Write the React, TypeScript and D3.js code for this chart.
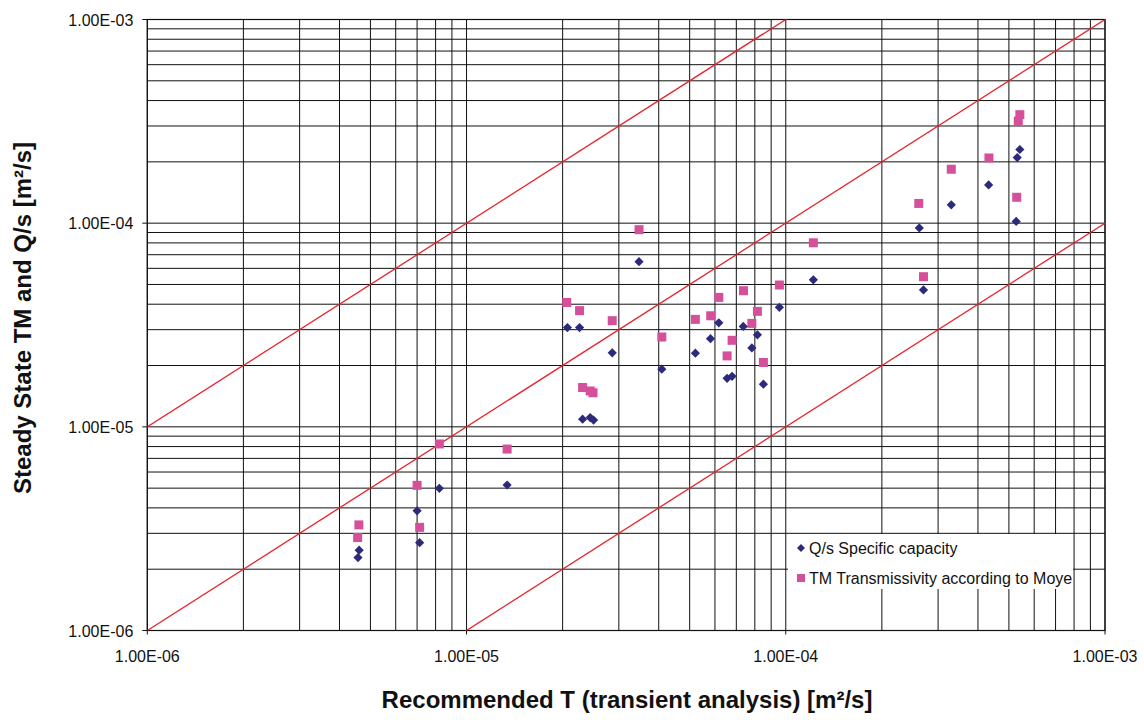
import React from "react";
import * as d3 from "d3";

const majorTicks = [1e-6, 1e-5, 1e-4, 1e-3];
const tickLabels = ["1.00E-06", "1.00E-05", "1.00E-04", "1.00E-03"];

// Q/s Specific capacity: x = recommended T, y = Q/s
const qsX = [4.57e-6, 4.61e-6, 7.0e-6, 7.13e-6, 8.22e-6, 1.34e-5, 2.07e-5, 2.26e-5, 2.86e-5, 2.31e-5, 2.44e-5, 2.5e-5, 3.47e-5, 4.09e-5, 5.21e-5, 5.81e-5, 6.17e-5, 7.36e-5, 8.15e-5, 7.83e-5, 6.55e-5, 6.79e-5, 8.51e-5, 9.55e-5, 1.22e-4, 2.62e-4, 2.7e-4, 3.3e-4, 4.32e-4, 5.27e-4, 5.31e-4, 5.41e-4];
const qsY = [2.28e-6, 2.48e-6, 3.87e-6, 2.7e-6, 4.99e-6, 5.18e-6, 3.07e-5, 3.07e-5, 2.31e-5, 1.09e-5, 1.11e-5, 1.08e-5, 6.47e-5, 1.92e-5, 2.3e-5, 2.71e-5, 3.24e-5, 3.11e-5, 2.83e-5, 2.44e-5, 1.73e-5, 1.77e-5, 1.62e-5, 3.86e-5, 5.27e-5, 9.48e-5, 4.7e-5, 1.23e-4, 1.54e-4, 1.02e-4, 2.1e-4, 2.3e-4];

// TM Transmissivity according to Moye
const tmX = [4.6e-6, 4.56e-6, 7.0e-6, 7.13e-6, 8.22e-6, 1.34e-5, 2.06e-5, 2.26e-5, 2.86e-5, 2.31e-5, 2.44e-5, 2.49e-5, 3.47e-5, 4.09e-5, 5.21e-5, 5.82e-5, 6.17e-5, 7.37e-5, 6.79e-5, 6.55e-5, 8.15e-5, 7.83e-5, 8.51e-5, 9.55e-5, 1.22e-4, 2.61e-4, 2.7e-4, 3.3e-4, 4.33e-4, 5.29e-4, 5.35e-4, 5.41e-4];
const tmY = [3.3e-6, 2.86e-6, 5.16e-6, 3.21e-6, 8.24e-6, 7.78e-6, 4.08e-5, 3.72e-5, 3.32e-5, 1.56e-5, 1.5e-5, 1.47e-5, 9.29e-5, 2.76e-5, 3.37e-5, 3.51e-5, 4.32e-5, 4.66e-5, 2.66e-5, 2.23e-5, 3.69e-5, 3.22e-5, 2.07e-5, 4.97e-5, 8.01e-5, 1.25e-4, 5.46e-5, 1.84e-4, 2.09e-4, 1.34e-4, 3.17e-4, 3.41e-4];

const ratioLines = [10, 1, 0.1];
const legendLabels = ["Q/s Specific capacity", "TM Transmissivity according to Moye"];
const xTitle = "Recommended T (transient analysis) [m\u00b2/s]";
const yTitle = "Steady State TM and Q/s [m\u00b2/s]";

const L = 147.3, R = 1105, T = 19.5, B = 630.5;
const QS_COLOR = "#2d2a7c";
const TM_COLOR = "#d64f9b";
const RED = "#e8212b";

const diamondPath = (r: number) => `M0,${-r}L${r},0L0,${r}L${-r},0Z`;

export default function App() {
  const x = d3.scaleLog().domain([1e-6, 1e-3]).range([L, R]);
  const y = d3.scaleLog().domain([1e-6, 1e-3]).range([B, T]);
  const grid: number[] = [];
  for (let e = -6; e < -3; e++) {
    for (let m = 1; m < 10; m++) grid.push(m * Math.pow(10, e));
  }
  grid.push(1e-3);
  const font = "'Liberation Sans', Arial, sans-serif";
  const lineGen = d3.line<[number, number]>().x((d) => x(d[0])).y((d) => y(d[1]));

  return (
    <svg width={1144} height={720} style={{ position: "absolute", left: 0, top: 0, background: "#fff" }} fontFamily={font}>
      <defs>
        <clipPath id="plotclip">
          <rect x={L} y={T} width={R - L} height={B - T} />
        </clipPath>
      </defs>
      <rect x={0} y={0} width={1144} height={720} fill="#fff" />
      {/* grid */}
      {grid.map((v, i) => (
        <line key={"v" + i} x1={x(v)} x2={x(v)} y1={T} y2={B} stroke="#111" strokeWidth={1} />
      ))}
      {grid.map((v, i) => (
        <line key={"h" + i} x1={L} x2={R} y1={y(v)} y2={y(v)} stroke="#111" strokeWidth={1} />
      ))}
      {/* axis ticks */}
      {majorTicks.map((v, i) => (
        <g key={"t" + i}>
          <line x1={L - 5} x2={L} y1={y(v)} y2={y(v)} stroke="#111" />
          <line x1={x(v)} x2={x(v)} y1={B} y2={B + 4} stroke="#111" />
          <text x={x(v)} y={B + 31} fontSize={16} textAnchor="middle" fill="#111">{tickLabels[i]}</text>
          <text x={L - 14} y={y(v) + 6} fontSize={16} textAnchor="end" fill="#111">{tickLabels[i]}</text>
        </g>
      ))}
      <rect x={L} y={T} width={R - L} height={B - T} fill="none" stroke="#111" strokeWidth={1.2} />
      {/* ratio lines */}
      <g clipPath="url(#plotclip)">
        {ratioLines.map((k, i) => (
          <path key={"r" + i} d={lineGen([[1e-7, 1e-7 * k], [1e-2, 1e-2 * k]]) || ""} fill="none" stroke={RED} strokeWidth={1.3} />
        ))}
      </g>
      {/* points */}
      {tmX.map((v, i) => (
        <rect key={"tm" + i} x={x(v) - 4.5} y={y(tmY[i]) - 4.5} width={9} height={9} fill={TM_COLOR} />
      ))}
      {qsX.map((v, i) => (
        <path key={"qs" + i} d={diamondPath(4.6)} transform={`translate(${x(v)},${y(qsY[i])})`} fill={QS_COLOR} />
      ))}
      {/* legend */}
      <rect x={788} y={534} width={285} height={55} fill="#fff" />
      <path d={diamondPath(4)} transform="translate(801,548)" fill={QS_COLOR} />
      <text x={809} y={554} fontSize={16} fill="#111">{legendLabels[0]}</text>
      <rect x={797} y={574} width={8} height={8} fill={TM_COLOR} />
      <text x={809} y={584} fontSize={16} fill="#111">{legendLabels[1]}</text>
      {/* titles */}
      <text x={627} y={708} fontSize={24} fontWeight="bold" textAnchor="middle" fill="#111">{xTitle}</text>
      <text transform="translate(31,318) rotate(-90)" fontSize={24} fontWeight="bold" textAnchor="middle" fill="#111">{yTitle}</text>
    </svg>
  );
}
